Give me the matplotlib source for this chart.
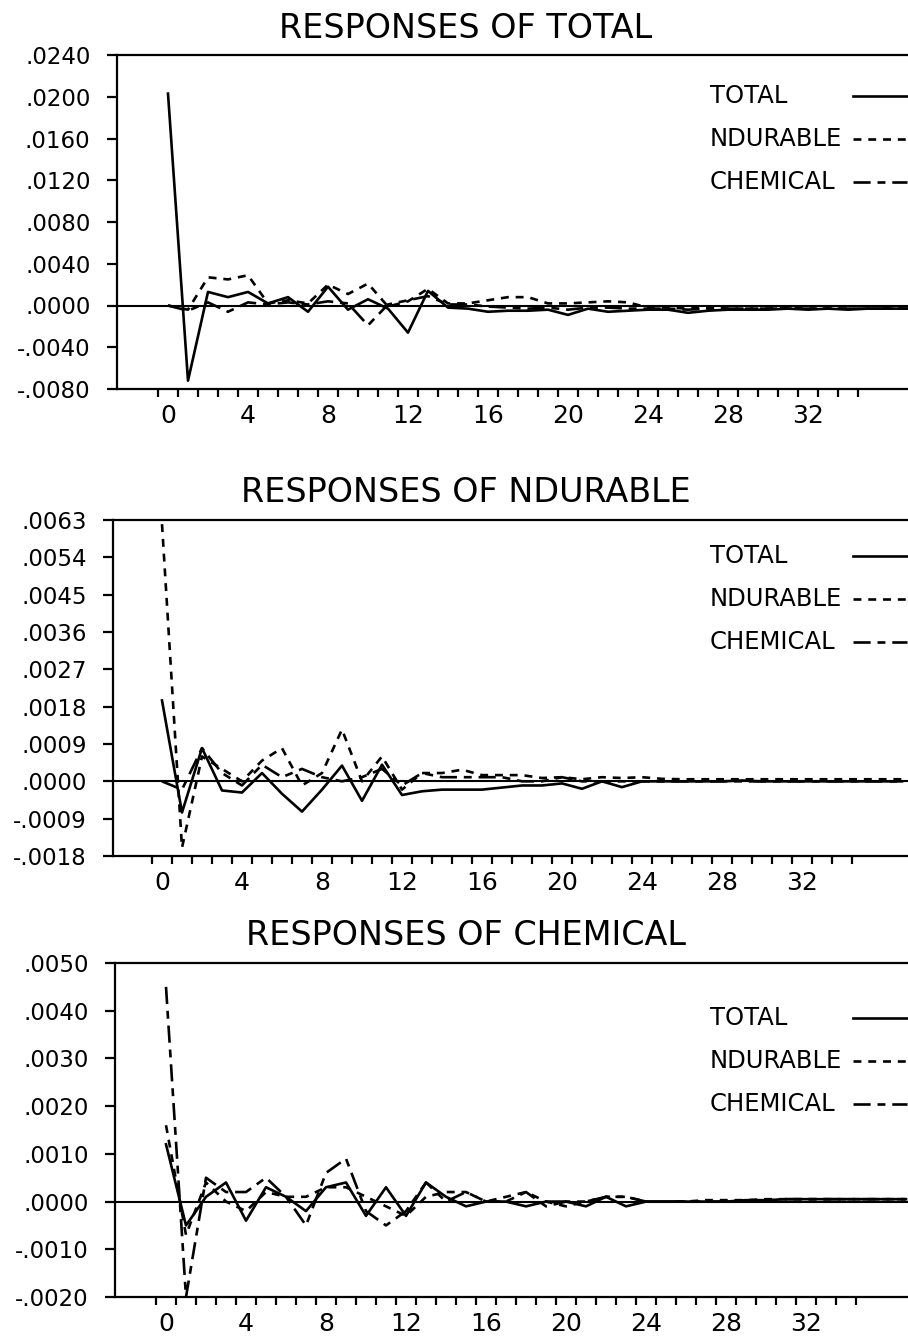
import matplotlib.pyplot as plt
import numpy as np

plt.rcParams['font.family'] = 'DejaVu Sans'

W, H = 908, 1341

names = ['TOTAL', 'NDURABLE', 'CHEMICAL']

# responses of TOTAL to each shock
total_to_total = [0.0203, -0.0072, 0.0013, 0.0008, 0.0013, 0.0002, 0.0008, -0.0006, 0.0018, -0.0004,
                  0.0006, -0.0003, -0.0026, 0.0014, -0.0002, -0.0003, -0.0006, -0.0005, -0.0005, -0.0004,
                  -0.0009, -0.0003, -0.0006, -0.0005, -0.0004, -0.0004, -0.0007, -0.0005, -0.0004, -0.0004,
                  -0.0004, -0.0003, -0.0004, -0.0003, -0.0004, -0.0003, -0.0003, -0.0003]
total_to_ndur = [0.0, -0.0004, 0.0027, 0.0025, 0.0029, 0.0002, 0.0005, 0.0002, 0.0020, 0.0011,
                 0.0021, -0.0001, 0.0004, 0.0016, 0.0002, 0.0002, 0.0005, 0.0008, 0.0008, 0.0002,
                 0.0002, 0.0003, 0.0004, 0.0003, -0.0002, -0.0002, -0.0003, -0.0002, -0.0003, -0.0003,
                 -0.0003, -0.0002, -0.0003, -0.0003, -0.0003, -0.0003, -0.0003, -0.0003]
total_to_chem = [0.0, -0.0005, 0.0003, -0.0006, 0.0003, 0.0001, 0.0003, 0.0001, 0.0004, 0.0002,
                 -0.0019, 0.0001, 0.0005, 0.0009, 0.0001, 0.0001, -0.0001, -0.0002, -0.0003, -0.0002,
                 -0.0004, -0.0002, -0.0002, -0.0003, -0.0003, -0.0003, -0.0004, -0.0003, -0.0003, -0.0003,
                 -0.0003, -0.0003, -0.0003, -0.0003, -0.0003, -0.0003, -0.0003, -0.0003]

# responses of NDURABLE
ndur_to_total = [0.00195, -0.00075, 0.0008, -0.00022, -0.00027, 0.0002, -0.0003, -0.00073, -0.0002, 0.00038,
                 -0.00047, 0.0004, -0.00033, -0.00024, -0.0002, -0.0002, -0.0002, -0.00015, -0.0001, -0.0001,
                 -0.00005, -0.00018, 0.0, -0.00014, 0.0, 0.0, 0.0, 0.0, 0.0, 0.00002,
                 0.0, 0.0, 0.0, 0.0, 0.0, 0.0, 0.0, 0.0]
ndur_to_ndur = [0.0062, -0.0016, 0.0006, 0.0003, 0.0, 0.0005, 0.0008, -0.0001, 0.0002, 0.00125,
                0.0, 0.0006, -0.0002, 0.0002, 0.0002, 0.00028, 0.00015, 0.00015, 0.00015, 0.00008,
                0.0001, 0.00005, 0.0001, 0.00008, 0.0001, 0.00006, 0.00005, 0.00005, 0.00005, 0.00005,
                0.00005, 0.00005, 0.00005, 0.00005, 0.00005, 0.00005, 0.00005, 0.00005]
ndur_to_chem = [0.0, -0.0002, 0.0008, 0.0002, -0.0001, 0.0004, 0.0001, 0.0003, 0.0001, 0.0,
                0.0001, 0.0003, -0.0001, 0.0002, 0.0001, 0.0001, 0.0001, 0.0001, 0.0, 0.0,
                0.0001, 0.0, 0.0, 0.0, 0.0, 0.0, 0.0, 0.0, 0.0, 0.0,
                0.0, 0.0, 0.0, 0.0, 0.0, 0.0, 0.0, 0.0]

# responses of CHEMICAL
chem_to_total = [0.0012, -0.0005, 0.0001, 0.0004, -0.0004, 0.0003, 0.0001, -0.0002, 0.0003, 0.0004,
                 -0.0003, 0.0003, -0.0003, 0.0004, 0.0001, -0.0001, 0.0, 0.0, -0.0001, 0.0,
                 0.0, -0.0001, 0.0001, -0.0001, 0.0, 0.0, 0.0, 0.0, 0.0, 0.00003,
                 0.00003, 0.00005, 0.00005, 0.00005, 0.00005, 0.00005, 0.00005, 0.00005]
chem_to_ndur = [0.0016, -0.0007, 0.0004, 0.0, -0.0002, 0.0002, 0.0001, 0.0001, 0.0003, 0.0003,
                0.0001, -0.0001, -0.0003, 0.0001, 0.0002, 0.0002, 0.0, 0.0001, 0.0002, 0.0,
                -0.0001, 0.0, 0.0001, 0.0001, 0.0, 0.0, 0.0, 0.00003, 0.00003, 0.00003,
                0.00005, 0.00005, 0.00005, 0.00005, 0.00005, 0.00005, 0.00005, 0.00005]
chem_to_chem = [0.0045, -0.0020, 0.0005, 0.0002, 0.0002, 0.0005, 0.0001, -0.0005, 0.0006, 0.0009,
                -0.0002, -0.0005, -0.0002, 0.0004, 0.0, 0.0002, 0.0, 0.0, 0.0002, -0.0001,
                0.0, 0.0, 0.0001, 0.0001, 0.0, 0.0, 0.0, 0.0, 0.0, 0.0,
                0.0, 0.00005, 0.00005, 0.00005, 0.00005, 0.00005, 0.00005, 0.00005]

# y tick values and their printed labels
yt_total = [-0.008, -0.004, 0.0, 0.004, 0.008, 0.012, 0.016, 0.020, 0.024]
yl_total = ['-.0080', '-.0040', '.0000', '.0040', '.0080', '.0120', '.0160', '.0200', '.0240']
yt_ndur = [-0.0018, -0.0009, 0.0, 0.0009, 0.0018, 0.0027, 0.0036, 0.0045, 0.0054, 0.0063]
yl_ndur = ['-.0018', '-.0009', '.0000', '.0009', '.0018', '.0027', '.0036', '.0045', '.0054', '.0063']
yt_chem = [-0.002, -0.001, 0.0, 0.001, 0.002, 0.003, 0.004, 0.005]
yl_chem = ['-.0020', '-.0010', '.0000', '.0010', '.0020', '.0030', '.0040', '.0050']

xt = [0, 4, 8, 12, 16, 20, 24, 28, 32]

LW = 1.9
styles = ['-', (0, (3, 2.6)), (0, (6.5, 2.6, 3, 2.6))]

# pixel layout: left edge, top, bottom, x of lag 0, title baseline, legend row centres
panels = [
    dict(title='RESPONSES OF TOTAL', data=[total_to_total, total_to_ndur, total_to_chem],
         yt=yt_total, yl=yl_total, left=117, top=55, bottom=389, x0=168, tb=38,
         rows=[96, 139, 182]),
    dict(title='RESPONSES OF NDURABLE', data=[ndur_to_total, ndur_to_ndur, ndur_to_chem],
         yt=yt_ndur, yl=yl_ndur, left=113, top=520, bottom=856, x0=162, tb=502,
         rows=[556, 599, 642]),
    dict(title='RESPONSES OF CHEMICAL', data=[chem_to_total, chem_to_ndur, chem_to_chem],
         yt=yt_chem, yl=yl_chem, left=115, top=963, bottom=1297, x0=166, tb=945,
         rows=[1018, 1061, 1104]),
]

fig = plt.figure(figsize=(W / 100, H / 100), dpi=100)

for p in panels:
    ax = fig.add_axes([p['left'] / W, 1 - p['bottom'] / H,
                       (W - p['left']) / W, (p['bottom'] - p['top']) / H])
    for vals, ls in zip(p['data'], styles):
        ax.plot(np.arange(len(vals)), vals, color='black', lw=LW, ls=ls)
    ax.axhline(0, color='black', lw=1.5)

    ax.set_xlim((p['left'] - p['x0']) / 20, (W - p['x0']) / 20)
    ax.set_ylim(p['yt'][0], p['yt'][-1])
    ax.set_yticks(p['yt'])
    ax.set_yticklabels(p['yl'])
    ax.set_xticks(xt)
    ax.set_xticks(np.arange(-0.5, 35, 1), minor=True)

    ax.spines['right'].set_visible(False)
    for s in ['left', 'top', 'bottom']:
        ax.spines[s].set_linewidth(1.6)
    ax.tick_params(axis='y', direction='out', length=7, width=1.6, pad=12, labelsize=16.5)
    ax.tick_params(axis='x', which='major', length=0, pad=11, labelsize=18)
    ax.tick_params(axis='x', which='minor', direction='out', length=6, width=1.6)

    fig.text(466 / W, 1 - p['tb'] / H, p['title'], ha='center', va='baseline', fontsize=24)

    # key: name on the left, line sample at the right edge
    for name, ls, yc in zip(names, styles, p['rows']):
        fy = 1 - yc / H
        fig.text(710 / W, fy, name, ha='left', va='center', fontsize=17.5)
        fig.add_artist(plt.Line2D([853 / W, 907 / W], [fy, fy], transform=fig.transFigure,
                                  color='black', lw=LW, ls=ls))

fig.savefig('out.png', dpi=100)
